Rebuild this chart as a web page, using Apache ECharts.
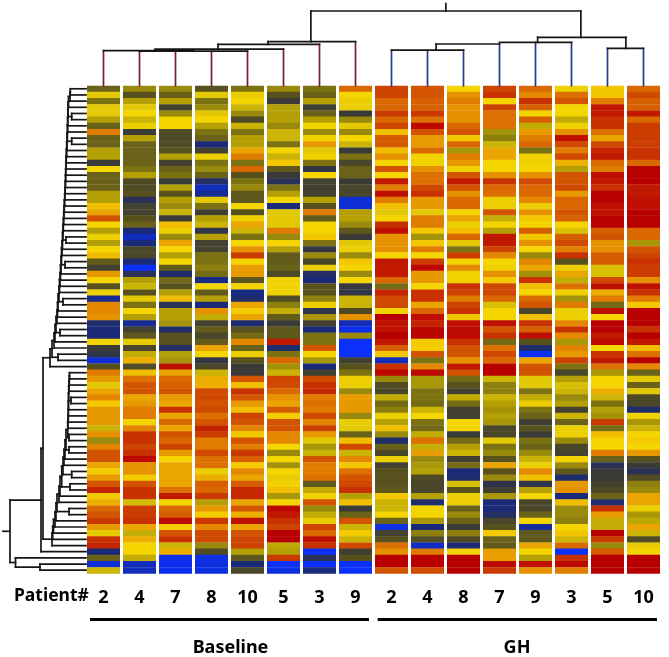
<!DOCTYPE html>
<html><head><meta charset="utf-8">
<style>html,body{margin:0;padding:0;background:#fff}#c{width:669px;height:657px}</style>
<script src="https://cdn.jsdelivr.net/npm/echarts@6/dist/echarts.min.js"></script>
</head><body><div id="c"></div>
<script>
const patients = ['2','4','7','8','10','5','3','9','2','4','8','7','9','3','5','10'];
// expression level on a 0 (bright blue) .. 12 (red) scale, read per row from the picture
const base2 = [3.5,6,4,6,6,5,3.5,9,3.5,3.5,5,5,2,7,3.5,3.5,3.5,5,5,7.5,8,10,7,5,6.5,5,7, 7.5,3.3,2.3,8.3,7,3,6.5,0.8,8.7,8.7,8.5,1.2,1,1,7,2,1.7,0.3,3,9,8.3,6,8,8.7,7.3,8.3, 8.3,8.3,5.5,8.5,4.5,8.8,10,10,8,7.2,8.3,10,11.3,7.3,7.8,9.5,10,10.8,8.3,6.3,11,11.3,1,3.5,0.3,5.5];
const base4 = [4.5,3,5,6,7,5.5,6.5,2,5,3.5,3.5,3.5,3.5,4,5,2.7,2.7,3,1.5,2.3,2.3,3,3.5,1,0.5,1,2.5, 2.5,1,0,1.5,5,5.5,3,6,4,7,5,0.8,2.3,3.2,6.3,2.5,5.3,7.8,2.8,7.5,9.3,10,10,8,8.3,9, 9,7,8.8,11,11,10.5,11,11.8,8.5,8.5,7.2,10,11,11,5.7,10.7,10.7,11,8,5.3,7.8,7,7,5.3,0.5,0.5];
const base7 = [4.5,3.5,5,2.3,4.5,7,7,2.7,2.7,2.7,3,5,2.3,3.5,4,2,5,3,5,4.5,5.5,2,7.5,6.5,4.5,8,7, 5,7,3.3,1.2,3.7,3,5,7.5,1.5,5,5,4.7,1.2,3,3,1.3,5,4.7,11.7,8,9.5,9.7,10,8.3,8,11, 8,9.5,8,10,9.5,10.5,8.3,7,8,8,8,8,9.3,11.5,7,9.5,9.8,11.8,7.2,10,11,5.5,7.8,0.1,0.1,0.1];
const base8 = [3,6,4,4.5,6,7,5,4,3.5,1,2.3,6.5,4,4.5,3.5,1.3,0.5,0.8,6,4,2.2,5,5.5,1.7,5,2.3,2.3, 4,4,4.3,3.8,0.9,7,3.3,5,1,8.5,5.3,2.3,3.3,2.5,3.3,8,7,1.8,2.5,5.5,7.8,7.8,10.3,10.3,10,10.3, 9.3,10,11.3,10.7,9,9,10.3,9.3,9.3,6.5,7.8,9.7,9.5,10.8,5,8.3,7.2,10.8,8.7,10.3,10.3,4.5,2.8,0.2,0.2,0.2];
const base10 = [4,6.5,7,5.5,4.5,2.7,5.5,4,5,5,8,9,4,9.5,3,4,4.5,3.2,3.2,7,3,6.7,8,5.5,4,7,8.5, 10.7,7,8.2,8.3,3.2,7,0.9,1.2,8,7.2,8,1.1,3,3.8,8.7,3.5,6.5,3,2,2,10,7.5,11,10,8.3,7.5, 10.5,10,8.8,7.3,10,9,10.8,9.7,7.2,8.7,8,9.8,11.2,11.2,8,10,7.8,11.7,8,10,10.5,10.5,5,3.2,1,2.5];
const base5 = [4.5,3,2,5,5,5,4.5,5.5,5.5,4,7,5.5,7.3,3.2,2,1.5,4,5,7,1,6,6,6,9,4.5,7,5, 3.3,3.3,3.5,2.7,6.8,6.8,6.8,2.8,4.3,5.3,3.3,2,3.2,3.2,11.5,1.2,4,9.5,4.7,5.5,10.5,10.3,9.5,8.5,8,9.8, 7.2,10,10,8.7,8.7,7,4.5,7,4.7,7,6.3,6.8,7.5,4.8,7,11.8,11.5,11,10.5,12,12,5.2,5,10.8,0,0.2];
const base3 = [4,3.5,5,2.2,3.5,5,7,4.5,6.8,8.3,6,6.8,4,1.8,7,2.3,2.3,2.3,5,3,9,3.3,7,7,7.3,4,1.8, 4.5,2.5,6.5,1.3,1,3,3,4.3,6.5,1.7,4.8,2.2,1,4,4,10,7,4.8,1,2.2,10.3,11,11.2,9,9.3,9, 10.3,8.8,10.7,8.3,6,4.8,5.5,10,9,9,9.3,3.2,5.3,6.8,10,4.5,5.3,6.3,10.5,9.5,11.7,11,0,1.5,0,1];
const base9 = [9.5,7,6.5,6.5,2,4.5,6,4.5,7,5.5,2,4,2.5,3.5,3.5,2,2.5,2.5,0.3,0.3,5,5,4.5,3.2,2,6,6.5, 4.5,7.3,7,4.5,7,1.9,1.7,5.5,5.5,2.7,8.5,0.5,0.1,4.5,0,0,0,2.2,3,4,6.5,6.5,4.5,8.2,8.3,8.3, 4.5,6.3,6,3.5,7.5,10.3,5.5,8.7,7.3,9.3,10,10.3,11,5,7.5,2,3.5,10,5.5,7.2,5.5,10.3,2.2,3,0,0];
const gh2 = [10.5,10.5,9.5,9.5,10.8,9.5,10.5,7.5,9.8,9.8,7.5,8.5,7,10,7,11.5,9,11.7,9,7.5,6,7,11,11.7,8.5,8.5,8.5, 7,11.5,11.5,11.5,9.5,3.8,11.3,10.3,10.3,7,12,11.7,11.7,12,11.5,9.7,7.3,0.5,11,11.8,4.5,2.8,2.5,5.3,3.8,4.3, 6.5,5,7.5,4.5,1.2,3.5,2.5,6.5,2.3,3,3,3,3.2,7.3,5.5,5.5,7,3.5,0.2,2.3,3,9.3,8.5,12,12,10];
const gh4 = [10,10,9.7,9.7,10.8,9.3,11.8,10,8.3,8.3,9.5,6.8,6.8,8.5,9.3,9.3,10.3,11,8.3,8.3,6,9,9,7.3,4.7,7.3,9, 7,10.7,11.8,8.3,8.3,7,11,11,8,9.5,11.7,11.3,11.9,11.9,7.2,7.2,10,4,8.7,11.8,4.8,4.8,4,4,3.8,5.5, 7,4,3.7,5.3,9.3,5.3,8.2,4.5,4.8,5,2.7,2.5,2.5,5,1.2,7,7,4.8,1,4.3,2.8,0.4,9,12,12,10.2];
const gh8 = [7,8.5,9,8.5,8.5,8.5,9.5,10,7.3,9.5,4.8,9,8.3,6.8,10,11.5,10,8.5,9.5,9.5,7,8,6.5,7.5,9.5,6,4, 10.7,7,8.7,6.8,6.8,11,10.5,9,10.5,11,7.3,11.7,11.8,11.8,11,10,10,8.5,11.5,10,3.7,3,2.2,5.3,3.8,2.2, 2.2,7,7,2,3.8,5,5.5,2.2,3.8,1,1.2,5.8,3,6.5,6.5,3.5,4.5,3.5,2,4.3,2.7,1,7,12,12,12];
const gh7 = [10.5,11,7,10.5,9.3,9.3,9.3,4.7,4.3,5.5,8,8,7,7,8.5,11,9.5,9.3,6.5,6.5,10,5.3,7,5,11.5,11.5,10.5, 8.7,7,6.8,8.5,7.2,10.3,10.3,9.5,5.8,7,7,11.7,10,11,3.8,9.3,10.3,9.5,12,12,5.5,4.3,4.3,5.5,5,4.7, 5,4.8,2.5,2.5,6,4,4.5,3,8,3,4.5,1.7,2.2,4.8,1,1,1.3,2.5,3,7.2,3.5,3.3,8.2,8.2,11.8,10.8];
const gh9 = [9.5,8.7,11,9.7,7,9.7,5.3,8.3,9,9.5,3.9,6.8,6.8,7,8.5,10.3,9.5,9.5,8.7,6.5,8.5,7.3,7,9.7,7.3,8.5,7, 4.5,8.7,8,4.7,11,7.5,7,9.5,10,2.5,7.5,11,9.7,11.7,3,1.2,0,8,10,10,6,6,4,5.3,6.5,4, 3.5,2.2,3,2,4,3.5,4.5,5.5,6.5,8.7,7.5,1.7,5,7,2.5,2.5,3.5,7,0.7,3.2,3.2,8,7,5,11.7,8.5];
const gh3 = [6.8,9.3,10,7,7,5.3,6.7,8.5,11.7,10.3,9,10.3,7.7,5,10,10,10.3,8.3,9.5,9.5,10,9.7,7,5.8,9.7,10.3,9, 11,3,6.5,8,5.3,9.3,6.8,4.7,9,6.5,6.5,8.7,11,8.7,4.8,8.8,8.3,10.5,4,2.5,5,5.8,5.5,4.5,5,2.3, 5.5,3.5,6.5,6.5,4.5,2.5,2.3,7,4.5,3.2,1.2,8.3,8.5,1,7.5,4.5,4.5,4.3,7,7.3,5.5,9.5,0,11,11.8,9];
const gh5 = [7.3,7.3,9,11.5,11.5,11,11,9.3,8,10.3,11.3,11.5,9.5,9,11.7,11.5,11,12,12,11.7,11.7,12,12,9.7,10,8.5,8.5, 9.8,9.8,5.8,5.8,10.3,11.7,7.8,9,3.7,11.7,7,12,12,11.5,11.8,7,11,11.5,9.3,4.8,7,7,7.8,5.5,4,5, 4.7,10.8,3.8,7.5,7,7,9,3.5,1.5,2,2,2.3,2.7,3.5,1.2,11,8.3,5.3,5.3,12,10.7,4.5,9.8,12,12,12];
const gh10 = [9.5,10.3,9.7,9.7,11.5,9.5,10.7,10.7,10.7,10.7,11,11,9.5,12,12,12,11.5,11.5,11.7,11.7,12,12,12,9.5,9.5,4.8,10, 10.5,11,10.7,10.7,8.5,11.7,11,9,7.3,12,12,12,11,12,11.5,7.5,9.3,12,8.7,3.5,6,3.5,6,2.7,2.5,1.2, 6.8,4.8,5.5,7,7.2,7,8.3,3,2,1.5,2.8,4.3,4.5,8,8,6.5,4.8,5.2,8,5.5,2.8,6.3,7,12,12,12];
const columns = [base2,base4,base7,base8,base10,base5,base3,base9,gh2,gh4,gh8,gh7,gh9,gh3,gh5,gh10];
const scaleColors = ['#0a30fa','#1a2a78','#3a3a36','#57511e','#7d7212','#b4a005','#e2c805','#f5d500','#eaa500','#e07c00','#d25400','#c83200','#b90000'];

// top tree: leaf heights per column, then links [x1,h1,x2,h2]
const topStems = [35,34.5,34,34.5,34.5,36.5,41.3,44, 35.5,35.5,35.5,41.7,43.3,43.3,37.3,37.3];
const topLinks = [
 [0,35,2.5,35],[1,34.5,4,34.5],[1.43,36.5,5,36.5],[3.18,36.5,3.18,41.3],[3.18,41.3,6,41.3],
 [4.57,41.3,4.57,44],[4.57,44,7,44],[5.76,44,5.76,74.7],[5.76,74.7,13.26,74.7],[9.51,74.7,9.51,82],
 [8,35.5,10,35.5],[9.24,35.5,9.24,41.7],[9.24,41.7,11,41.7],[11,43.3,13,43.3],[12.06,43.3,12.06,48.3],
 [12.06,48.3,14.51,48.3],[14.51,48.3,14.51,37.3],[14,37.3,15,37.3],[13.26,48.3,13.26,74.7]
];
// left tree: chains of [row or [rowA,rowB,pairDepth], mergeDepth]; depth on the axis of the tree
const upperStart = 0;
const upperChain = [[1,70.3],[2,70],[3,68.5],[[4,5,71.7],68],[6,67.8],[7,67.6],[[8,9,71.7],67.4],[10,67],[11,66.7],[12,66.3],[13,66],[14,65.8],[15,65.7],[16,65.5],[17,65.2],[18,65],[19,64.7],[20,64.3],[21,64],[22,63.7],[23,63.3],[[24,25,66],63],[26,62.5],[27,62],[[28,29,65],61.5],[30,61],[31,60.5],[32,60],[33,59.5],[[34,35,63],59],[36,58],[37,57.5],[38,57],[[39,40,60],56],[41,55],[42,54],[[43,44,58],52],[45,50]];
const lowerStart = 46;
const lowerChain = [[47,69.5],[48,69.3],[49,69],[[50,51,71],68.7],[52,68.5],[53,68.3],[54,68.3],[55,68],[[56,57,69],67.7],[[58,59,69],66],[60,65],[61,64],[[62,63,71.7],63],[[64,65,70],61.7],[66,60],[67,59],[[68,69,69],57],[70,56],[71,55],[72,53.5],[73,52.7],[74,52]];
const trunkDepths = {clusters:43, row75:41, pair77:40, row76:15.5, root:10, rootEnd:3};

const rowCount = 79, colCount = 16, leftEdge = 86;
const cells = [];
columns.forEach((col,x)=>col.forEach((v,y)=>cells.push([x,y,v])));
const rowAxis = Array.from({length:rowCount},(_,i)=>i);

const leftSegs = [];
const rowY = r => r + 0.5;
function join(a,b,x){
  leftSegs.push([a.x,a.y,x,a.y],[b.x,b.y,x,b.y],[x,a.y,x,b.y]);
  return {x,y:(a.y+b.y)/2};
}
function bare(r){return {x:leftEdge,y:rowY(r)};}
function chain(start,list){
  let cur = bare(start);
  list.forEach(([it,m])=>{
    const n = Array.isArray(it) ? join(bare(it[0]),bare(it[1]),it[2]) : bare(it);
    cur = join(cur,n,m);
  });
  return cur;
}
const upper = chain(upperStart,upperChain), lower = chain(lowerStart,lowerChain);
let mainNode = join(upper,lower,trunkDepths.clusters);
mainNode = join(mainNode,bare(75),trunkDepths.row75);
const sideNode = join(bare(76),join(bare(77),bare(78),trunkDepths.pair77),trunkDepths.row76);
const rootNode = join(mainNode,sideNode,trunkDepths.root);
leftSegs.push([rootNode.x,rootNode.y,trunkDepths.rootEnd,rootNode.y]);

const stemSegs = topStems.map((h,i)=>[i,0,i,h,i<8?0:1]);
const linkSegs = topLinks.map(l=>[...l,2]);
const lineColors = ['#7c1e2c','#263a8c','#161616'];
const lineRender = (p,api)=>{
  const a=api.coord([api.value(0),api.value(1)]), b=api.coord([api.value(2),api.value(3)]);
  return {type:'line',shape:{x1:a[0],y1:a[1],x2:b[0],y2:b[1]},
    style:{stroke:lineColors[api.value(4)],lineWidth:1.7,lineCap:'square'}};
};
const FONT='"Noto Sans",sans-serif';
const gridLeft=85.5, gridW=576, gridTop=85.7, gridH=487.6;
const chart = echarts.init(document.getElementById('c'),null,{renderer:'canvas'});
chart.setOption({
  animation:false, backgroundColor:'#fff',
  grid:[
    {left:gridLeft,top:gridTop,width:gridW,height:gridH},
    {left:gridLeft,top:0,width:gridW,height:gridTop},
    {left:0,top:gridTop,width:leftEdge,height:gridH}
  ],
  xAxis:[
    {type:'category',gridIndex:0,data:patients,position:'bottom',axisLine:{show:false},axisTick:{show:false},splitLine:{show:false},
     axisLabel:{interval:0,margin:16,color:'#000',fontFamily:FONT,fontWeight:'bold',fontSize:18}},
    {type:'value',gridIndex:1,min:-0.5,max:15.5,show:false},
    {type:'value',gridIndex:2,min:0,max:leftEdge,show:false}
  ],
  yAxis:[
    {type:'category',gridIndex:0,data:rowAxis,inverse:true,show:false},
    {type:'value',gridIndex:1,min:0,max:gridTop,show:false},
    {type:'value',gridIndex:2,min:0,max:rowCount,inverse:true,show:false}
  ],
  visualMap:{show:false,seriesIndex:0,dimension:2,min:0,max:12,inRange:{color:scaleColors}},
  series:[
    {type:'custom',xAxisIndex:0,yAxisIndex:0,data:cells,encode:{x:0,y:1},
     renderItem:(p,api)=>{
       const c=api.coord([api.value(0),api.value(1)]), s=api.size([1,1]);
       return {type:'rect',shape:{x:c[0]-16.5,y:c[1]-s[1]/2,width:33,height:s[1]+0.4},style:{fill:api.visual('color')}};
     }},
    {type:'custom',xAxisIndex:1,yAxisIndex:1,data:stemSegs.concat(linkSegs),clip:false,encode:{x:[0,2],y:[1,3]},renderItem:lineRender},
    {type:'custom',xAxisIndex:2,yAxisIndex:2,data:leftSegs.map(s=>[...s,2]),clip:false,encode:{x:[0,2],y:[1,3]},renderItem:lineRender}
  ],
  graphic:[
    {type:'text',left:14,top:587,style:{text:'Patient#',font:'bold 17.5px '+FONT,fill:'#000'}},
    {type:'rect',shape:{x:90,y:618,width:279,height:3},style:{fill:'#000'}},
    {type:'rect',shape:{x:377.7,y:618,width:279.3,height:3},style:{fill:'#000'}},
    {type:'text',x:230.5,y:648,style:{text:'Baseline',font:'bold 18px '+FONT,fill:'#000',align:'center',verticalAlign:'middle'}},
    {type:'text',x:517,y:648,style:{text:'GH',font:'bold 18px '+FONT,fill:'#000',align:'center',verticalAlign:'middle'}}
  ]
});
</script></body></html>
